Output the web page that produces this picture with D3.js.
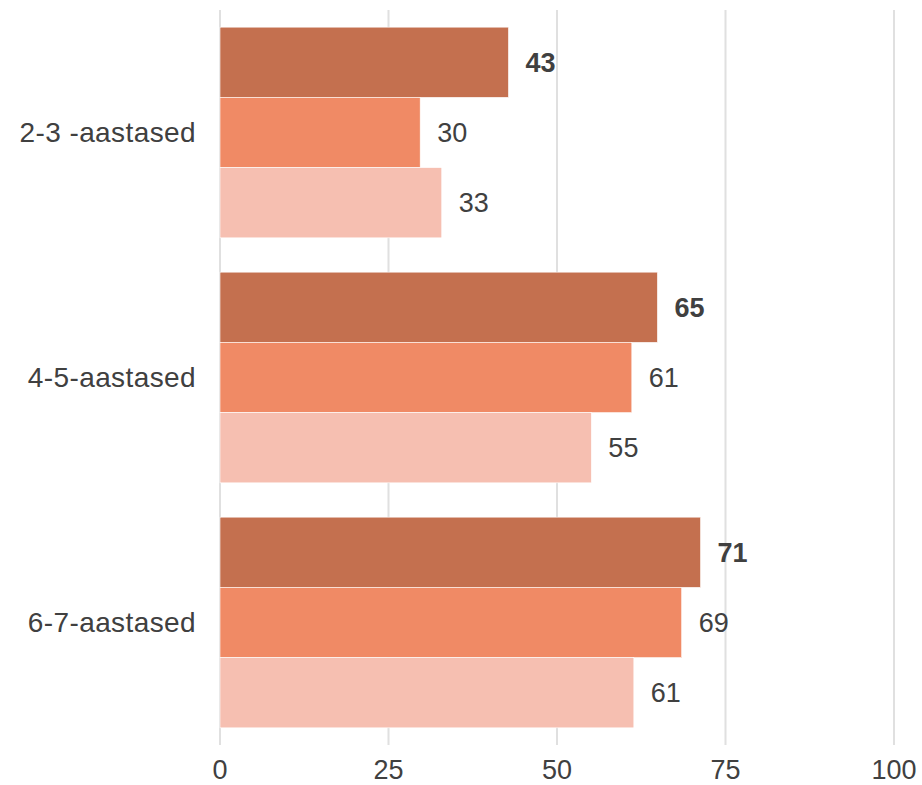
<!DOCTYPE html>
<html>
<head>
<meta charset="utf-8">
<script src="https://cdn.jsdelivr.net/npm/d3@7"></script>
<style>
  body { margin: 0; background: #fff; }
  text { font-family: "Liberation Sans", Arial, Helvetica, sans-serif; fill: #404040; }
</style>
</head>
<body>
<div id="chart"></div>
<script>
// categories and series
var categories = ["2-3 -aastased", "4-5-aastased", "6-7-aastased"];
var seriesNames = ["s1", "s2", "s3"];
var series1 = [42.8, 64.9, 71.3];
var series2 = [29.7, 61.1, 68.5];
var series3 = [32.9, 55.1, 61.4];
var ticks = [0, 25, 50, 75, 100];
var colors = ["#c4704f", "#f08a65", "#f6bfb1"];

var width = 922, height = 785;
var svg = d3.select("#chart").append("svg")
  .attr("width", width)
  .attr("height", height);

var x = d3.scaleLinear().domain([0, 100]).range([220, 894]);

var y0 = d3.scaleBand()
  .domain(categories)
  .range([10, 745])
  .paddingInner(0.14)
  .paddingOuter(0.07);

var y1 = d3.scaleBand()
  .domain(seriesNames)
  .range([0, y0.bandwidth()]);

// gridlines
svg.append("g").selectAll("line")
  .data(ticks)
  .enter().append("line")
  .attr("x1", function(d) { return x(d); })
  .attr("x2", function(d) { return x(d); })
  .attr("y1", 10)
  .attr("y2", 745)
  .attr("stroke", "#e0e0e0")
  .attr("stroke-width", 2);

// tick labels
svg.append("g").selectAll("text")
  .data(ticks)
  .enter().append("text")
  .attr("x", function(d) { return x(d); })
  .attr("y", 779)
  .attr("text-anchor", "middle")
  .attr("font-size", 27)
  .text(function(d) { return d; });

// build rows from the series
var rows = categories.map(function(c, i) {
  return [series1[i], series2[i], series3[i]].map(function(v, j) {
    return { cat: c, key: seriesNames[j], value: v, idx: j };
  });
});

var groups = svg.append("g").selectAll("g")
  .data(rows)
  .enter().append("g")
  .attr("transform", function(d, i) { return "translate(0," + y0(categories[i]) + ")"; });

groups.selectAll("rect")
  .data(function(d) { return d; })
  .enter().append("rect")
  .attr("x", x(0))
  .attr("y", function(d) { return y1(d.key); })
  .attr("width", function(d) { return x(d.value) - x(0); })
  .attr("height", y1.bandwidth())
  .attr("fill", function(d) { return colors[d.idx]; })
  .attr("stroke", "#fff")
  .attr("stroke-width", 0.6);

// value labels
groups.selectAll("text")
  .data(function(d) { return d; })
  .enter().append("text")
  .attr("x", function(d) { return x(d.value) + 17; })
  .attr("y", function(d) { return y1(d.key) + y1.bandwidth() / 2; })
  .attr("dy", "0.35em")
  .attr("font-size", 27)
  .attr("font-weight", function(d) { return d.idx === 0 ? "bold" : "normal"; })
  .text(function(d) { return Math.round(d.value); });

// category labels
svg.append("g").selectAll("text")
  .data(categories)
  .enter().append("text")
  .attr("x", 196)
  .attr("y", function(d) { return y0(d) + y0.bandwidth() / 2; })
  .attr("dy", "0.35em")
  .attr("text-anchor", "end")
  .attr("font-size", 28)
  .attr("letter-spacing", 0.4)
  .text(function(d) { return d; });
</script>
</body>
</html>
